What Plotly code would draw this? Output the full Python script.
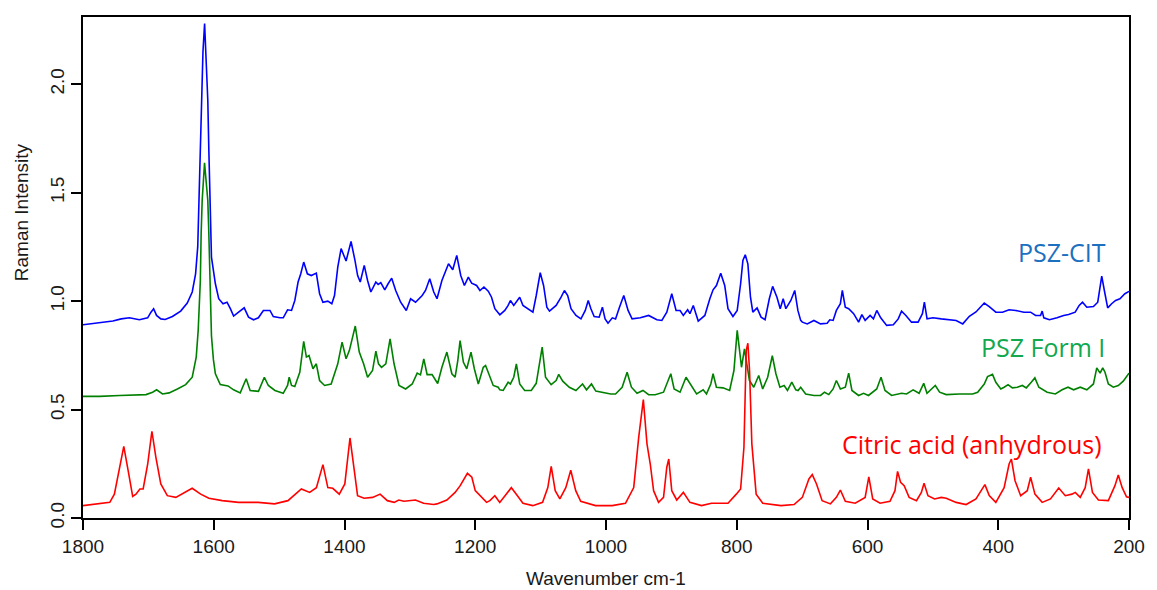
import plotly.graph_objects as go

# Citric acid (anhydrous) spectrum: (wavenumber, intensity)
citric_points = [
    (1800, 0.057), (1759, 0.072), (1752, 0.11), (1743, 0.25), (1737.6, 0.33), (1731, 0.22),
    (1724, 0.10), (1719, 0.11), (1713, 0.134), (1708, 0.134), (1701, 0.25), (1694.6, 0.40),
    (1688.5, 0.28), (1681, 0.157), (1671, 0.103), (1658, 0.095), (1645.5, 0.118), (1633, 0.137),
    (1620, 0.11), (1607.5, 0.091), (1587, 0.08), (1562, 0.072), (1532, 0.072), (1519, 0.069),
    (1507, 0.065), (1486.5, 0.08), (1476, 0.11), (1466, 0.134), (1453.3, 0.118), (1443, 0.14),
    (1433, 0.246), (1425.5, 0.14), (1418, 0.137), (1408, 0.11), (1399.5, 0.157), (1391.6, 0.369),
    (1385, 0.218), (1380, 0.103), (1370, 0.091), (1357, 0.095), (1345.5, 0.11), (1334.5, 0.08),
    (1324, 0.072), (1317, 0.083), (1309, 0.077), (1291.5, 0.083), (1279, 0.068), (1263.6, 0.062),
    (1258.6, 0.065), (1243.4, 0.083), (1230.8, 0.118), (1223, 0.149), (1212, 0.206), (1205.2, 0.188),
    (1200, 0.126), (1192.8, 0.103), (1182.7, 0.072), (1177.6, 0.08), (1170, 0.103), (1162.5, 0.072),
    (1152.4, 0.11), (1144.8, 0.14), (1137.2, 0.11), (1127, 0.068), (1112, 0.057), (1097, 0.072),
    (1089, 0.14), (1083.8, 0.238), (1077.7, 0.126), (1070.6, 0.088), (1061.5, 0.14), (1053.9, 0.22),
    (1046.3, 0.126), (1038.7, 0.077), (1016, 0.057), (990.6, 0.057), (970.2, 0.068), (957.6, 0.14),
    (950, 0.372), (942.9, 0.546), (937.3, 0.342), (932.3, 0.249), (927.2, 0.126), (919.6, 0.072),
    (912, 0.095), (907, 0.234), (904, 0.272), (899.4, 0.126), (891.8, 0.083), (881.7, 0.118),
    (871.6, 0.072), (853.9, 0.057), (838.7, 0.068), (813.4, 0.068), (800.7, 0.11), (794.1, 0.134),
    (789, 0.326), (785.5, 0.772), (783, 0.806), (780.4, 0.68), (776.9, 0.342), (770.3, 0.11),
    (760.2, 0.068), (732.4, 0.057), (712.3, 0.062), (699.7, 0.095), (689.6, 0.18), (684.5, 0.2),
    (678, 0.157), (669.4, 0.08), (656.7, 0.065), (647.6, 0.095), (641.5, 0.129), (633.9, 0.077),
    (618.8, 0.068), (603.6, 0.095), (598, 0.19), (592, 0.088), (580.8, 0.068), (565.6, 0.077),
    (558, 0.126), (554, 0.215), (549.4, 0.165), (543.9, 0.149), (536.3, 0.095), (525.1, 0.08),
    (517.6, 0.118), (513.5, 0.16), (507.5, 0.103), (497.4, 0.088), (487.2, 0.095), (479.6, 0.091),
    (464.4, 0.072), (454.3, 0.065), (449.2, 0.062), (434.1, 0.088), (425.5, 0.129), (420.4, 0.154),
    (413.8, 0.103), (403.7, 0.072), (391, 0.14), (383.4, 0.249), (379.9, 0.272), (374.3, 0.172),
    (365.7, 0.103), (355.6, 0.126), (350.5, 0.188), (343.9, 0.11), (332.8, 0.072), (320.1, 0.088),
    (307.5, 0.138), (297.4, 0.103), (287.3, 0.11), (282.2, 0.118), (274.6, 0.095), (267, 0.14),
    (262, 0.226), (255.9, 0.118), (246.8, 0.083), (231.6, 0.08), (221.5, 0.149), (216.4, 0.198),
    (210.4, 0.14), (203.8, 0.098), (200, 0.095),
]

# PSZ Form I spectrum
form1_points = [
    (1800, 0.561), (1774.5, 0.561), (1744, 0.565), (1703.6, 0.569), (1693.5, 0.58), (1687.4, 0.591),
    (1678.4, 0.572), (1668.3, 0.577), (1655.6, 0.595), (1643, 0.615), (1632.9, 0.649), (1626.8, 0.742),
    (1623.8, 0.865), (1620.5, 1.095), (1619.3, 1.31), (1617.7, 1.464), (1614.1, 1.638), (1609.1, 1.464),
    (1607.5, 1.31), (1605.5, 1.0), (1603.5, 0.84), (1600.5, 0.73), (1597.5, 0.665), (1590, 0.615),
    (1578.2, 0.609), (1569.6, 0.591), (1559.5, 0.577), (1550.4, 0.642), (1544.3, 0.588), (1531.6, 0.584),
    (1522.6, 0.649), (1516.5, 0.611), (1506.4, 0.588), (1493.7, 0.575), (1487.1, 0.611), (1484.6, 0.649),
    (1481, 0.611), (1476, 0.606), (1468.4, 0.672), (1462.4, 0.814), (1458.3, 0.742), (1454.3, 0.749),
    (1448.2, 0.688), (1443.1, 0.711), (1438.1, 0.634), (1430.5, 0.611), (1420.4, 0.618), (1410.3, 0.711),
    (1403.7, 0.811), (1397.6, 0.734), (1392.6, 0.772), (1383.5, 0.885), (1377.4, 0.765), (1370.8, 0.711),
    (1364.7, 0.649), (1357.1, 0.68), (1352, 0.769), (1348, 0.711), (1343.4, 0.695), (1336.8, 0.711),
    (1330.3, 0.826), (1324.2, 0.711), (1316.6, 0.611), (1306.5, 0.595), (1296.4, 0.618), (1288.8, 0.668),
    (1283.8, 0.66), (1278.7, 0.734), (1273.6, 0.661), (1266, 0.661), (1257.5, 0.62), (1251, 0.695),
    (1243.4, 0.765), (1235.8, 0.665), (1230.8, 0.649), (1226.7, 0.726), (1223.2, 0.818), (1218.1, 0.718),
    (1213, 0.688), (1206.5, 0.765), (1201.4, 0.688), (1195.3, 0.618), (1187.7, 0.695), (1184.2, 0.703),
    (1179.1, 0.665), (1172.5, 0.611), (1164.9, 0.603), (1162.4, 0.591), (1157.3, 0.588), (1149.7, 0.626),
    (1146.2, 0.618), (1141.1, 0.649), (1137.1, 0.711), (1132, 0.618), (1124.4, 0.588), (1114.3, 0.588),
    (1106.7, 0.621), (1101.6, 0.711), (1097.6, 0.788), (1092.5, 0.649), (1083.9, 0.615), (1076.3, 0.634),
    (1072.3, 0.662), (1066.2, 0.631), (1056.1, 0.603), (1046, 0.588), (1035.9, 0.618), (1029.8, 0.591),
    (1022.2, 0.618), (1015.6, 0.585), (1005.5, 0.58), (992.9, 0.572), (985.4, 0.572), (975.3, 0.603),
    (967.7, 0.672), (961.1, 0.603), (952.5, 0.575), (943.4, 0.588), (934.8, 0.569), (924.7, 0.568),
    (912, 0.58), (904.4, 0.634), (900.9, 0.665), (895.8, 0.595), (886.7, 0.58), (877.6, 0.649),
    (871.6, 0.621), (861.4, 0.572), (851.3, 0.591), (846.3, 0.572), (839.7, 0.618), (836.2, 0.665),
    (831.1, 0.603), (821, 0.6), (810.9, 0.588), (804.3, 0.68), (799.3, 0.865), (795.7, 0.757),
    (792.7, 0.695), (788.2, 0.78), (784.6, 0.711), (780.6, 0.634), (774, 0.603), (766.4, 0.657),
    (760.3, 0.595), (752.7, 0.649), (745.6, 0.748), (740.1, 0.665), (734, 0.603), (727.5, 0.611),
    (722.4, 0.588), (715.8, 0.626), (709.7, 0.591), (706.2, 0.588), (702.2, 0.603), (694.6, 0.572),
    (681.9, 0.565), (671.8, 0.565), (665.8, 0.58), (659.2, 0.569), (652.6, 0.595), (647.6, 0.634),
    (641.5, 0.595), (633.9, 0.603), (628.8, 0.668), (623.8, 0.588), (613.6, 0.565), (606, 0.575),
    (598.5, 0.565), (585.9, 0.595), (579.3, 0.649), (573.2, 0.588), (563.1, 0.565), (547.9, 0.575),
    (540.3, 0.572), (530.2, 0.591), (521.1, 0.575), (514, 0.621), (509, 0.575), (502.4, 0.595),
    (496.3, 0.611), (489.7, 0.58), (479.6, 0.569), (459.4, 0.572), (439.1, 0.572), (431.5, 0.58),
    (421.4, 0.618), (416.4, 0.652), (408.8, 0.662), (403.7, 0.626), (396.1, 0.595), (391, 0.603),
    (385, 0.615), (378.4, 0.6), (370.8, 0.603), (363.2, 0.611), (357.1, 0.6), (349.5, 0.626),
    (344, 0.646), (337.9, 0.603), (325.2, 0.58), (312.6, 0.572), (302.4, 0.591), (293.3, 0.603),
    (284.7, 0.591), (274.6, 0.603), (264.5, 0.591), (254.4, 0.618), (249.3, 0.692), (244.2, 0.668),
    (240.2, 0.692), (236.7, 0.672), (231.6, 0.618), (224, 0.603), (216.4, 0.611), (208.8, 0.631),
    (200, 0.668),
]

# PSZ-CIT spectrum
pszcit_points = [
    (1800, 0.891), (1779.6, 0.898), (1754.3, 0.908), (1741.6, 0.918), (1729, 0.923), (1713.8, 0.914),
    (1701.1, 0.923), (1696, 0.949), (1692, 0.965), (1687.5, 0.934), (1680.9, 0.918), (1674.3, 0.915),
    (1663.2, 0.929), (1650.6, 0.954), (1640.5, 0.991), (1632.9, 1.042), (1627.8, 1.126), (1624.5, 1.25),
    (1622.8, 1.45), (1621.2, 1.695), (1619.3, 1.926), (1616.5, 2.15), (1614, 2.28), (1611.8, 2.15),
    (1609.1, 1.926), (1607.5, 1.695), (1605, 1.31), (1603.5, 1.203), (1597.5, 1.08), (1592.4, 1.011),
    (1585.8, 0.988), (1579.7, 0.995), (1574.6, 0.965), (1569.6, 0.931), (1562, 0.949), (1553.4, 0.969),
    (1546.8, 0.926), (1539.2, 0.914), (1531.7, 0.923), (1524.1, 0.957), (1514, 0.957), (1508.9, 0.929),
    (1498.8, 0.923), (1493.7, 0.923), (1487.1, 0.96), (1481, 0.957), (1476, 1.003), (1471, 1.088),
    (1466.9, 1.126), (1462.4, 1.18), (1456.8, 1.126), (1450.8, 1.118), (1443.1, 1.129), (1438.1, 1.034),
    (1433, 0.995), (1425.5, 1.0), (1419.4, 0.988), (1415.3, 1.026), (1410.3, 1.157), (1405.2, 1.242),
    (1397.6, 1.185), (1390, 1.275), (1384, 1.188), (1379.9, 1.118), (1375.9, 1.088), (1369.8, 1.165),
    (1364.7, 1.095), (1359.7, 1.042), (1352.1, 1.088), (1348.5, 1.077), (1344.5, 1.085), (1338.4, 1.052),
    (1333.3, 1.08), (1327.8, 1.106), (1321.7, 1.049), (1314.1, 0.995), (1305.5, 0.957), (1298.9, 1.011),
    (1291.3, 0.995), (1281.2, 1.026), (1276.1, 1.049), (1269.6, 1.103), (1263.5, 1.042), (1258.5, 1.011),
    (1251, 1.095), (1243.2, 1.16), (1240.9, 1.172), (1234.4, 1.145), (1228.3, 1.211), (1222.2, 1.118),
    (1216.6, 1.072), (1210.6, 1.111), (1205.5, 1.083), (1197.9, 1.072), (1192.8, 1.049), (1186.7, 1.065),
    (1180.1, 1.046), (1175.1, 1.018), (1170, 0.965), (1162.4, 0.937), (1154.8, 0.957), (1149.7, 0.98),
    (1146.2, 1.003), (1141.1, 0.98), (1132, 1.018), (1127, 0.98), (1119.4, 0.965), (1111.8, 0.949),
    (1106.7, 1.026), (1100.6, 1.131), (1095.5, 1.072), (1090.5, 0.972), (1086.4, 0.954), (1076.3, 0.98),
    (1068.7, 1.018), (1063.6, 1.049), (1058.6, 1.026), (1053.5, 0.965), (1045.9, 0.934), (1038.3, 0.918),
    (1031.7, 0.957), (1027.2, 1.003), (1023.1, 0.965), (1018.1, 0.929), (1010.5, 0.926), (1005.5, 0.972),
    (1001.4, 0.918), (996.9, 0.898), (990.3, 0.923), (985.4, 0.918), (979.4, 0.972), (972.8, 1.026),
    (966.2, 0.957), (960.1, 0.918), (947.5, 0.923), (934.8, 0.934), (922.2, 0.914), (914.6, 0.911),
    (907, 0.949), (899.4, 1.034), (892.8, 0.957), (886.7, 0.957), (881.7, 0.934), (875.1, 0.96),
    (871.6, 0.942), (866.5, 0.98), (858.9, 0.908), (848.8, 0.934), (841.2, 1.011), (836.2, 1.052),
    (831.1, 1.072), (824.5, 1.129), (818.4, 1.072), (813.4, 0.965), (805.8, 0.929), (799.3, 0.957),
    (794.1, 1.08), (790.6, 1.188), (787, 1.214), (783, 1.172), (779, 1.018), (775.4, 0.949),
    (768.9, 0.969), (762.8, 0.926), (756.7, 0.914), (750.2, 1.011), (745.1, 1.068), (738.5, 1.018),
    (733.5, 0.965), (729, 1.011), (724.9, 0.965), (717.3, 1.003), (711.3, 1.049), (706.5, 0.957),
    (702.2, 0.911), (699.7, 0.903), (692.1, 0.895), (682, 0.911), (671.8, 0.895), (661.7, 0.898),
    (657.7, 0.914), (652.6, 0.911), (647.6, 0.957), (641.5, 0.988), (638.5, 1.049), (634, 0.972),
    (628.8, 0.965), (621.2, 0.942), (613.6, 0.903), (608.6, 0.938), (603.6, 0.911), (596, 0.934),
    (590.9, 0.918), (585.8, 0.957), (579.8, 0.923), (570.7, 0.888), (560.5, 0.891), (553, 0.918),
    (547.9, 0.954), (541.3, 0.934), (532.7, 0.903), (522.6, 0.903), (516, 0.942), (513, 0.995),
    (508.9, 0.918), (499.8, 0.923), (487.2, 0.918), (474.5, 0.914), (464.4, 0.911), (454.3, 0.895),
    (444.2, 0.93), (434.1, 0.95), (421.4, 0.991), (413.8, 0.975), (403.7, 0.949), (393.5, 0.949),
    (383.4, 0.96), (373.3, 0.957), (360.7, 0.949), (350.5, 0.949), (342.9, 0.934), (335.3, 0.934),
    (332.8, 0.954), (330.3, 0.923), (321.7, 0.914), (310.1, 0.923), (300, 0.934), (292.4, 0.938),
    (282.3, 0.949), (276.2, 0.98), (271.1, 0.995), (264.5, 0.972), (254.4, 0.975), (247.8, 0.995),
    (244.2, 1.065), (241.7, 1.115), (237.7, 1.049), (232.6, 0.969), (226.6, 0.988), (220.5, 1.003),
    (213.9, 1.011), (206.3, 1.034), (200, 1.045),
]

series_names = ["PSZ-CIT", "PSZ Form I", "Citric acid (anhydrous)"]
x_tick_vals = [1800, 1600, 1400, 1200, 1000, 800, 600, 400, 200]
y_tick_vals = [0.0, 0.5, 1.0, 1.5, 2.0]
y_tick_text = ["0.0", "0.5", "1.0", "1.5", "2.0"]
x_title = "Wavenumber cm-1"
y_title = "Raman Intensity"

series = [
    (pszcit_points, "#0000FF", "#1B70C0", 302.6, 1.226),
    (form1_points, "#008000", "#12A84E", 331.4, 0.79),
    (citric_points, "#FF0000", "#FF0000", 440.7, 0.343),
]

fig = go.Figure()
for name, (pts, lc, tc, lx, ly) in zip(series_names, series):
    fig.add_trace(go.Scatter(
        x=[p[0] for p in pts], y=[p[1] for p in pts], mode="lines",
        line=dict(color=lc, width=1.6), name=name, showlegend=False,
    ))
    fig.add_annotation(x=lx, y=ly, text=name, showarrow=False,
                       font=dict(family="Open Sans", size=25, color=tc))

axis_font = dict(family="Liberation Sans", size=19, color="#1a1a1a")
fig.add_annotation(xref="paper", yref="paper", x=0.5, y=-0.12, text=x_title,
                   showarrow=False, xanchor="center", yanchor="middle", font=axis_font)
fig.add_annotation(xref="paper", yref="paper", x=-0.058, y=0.611, text=y_title,
                   showarrow=False, xanchor="center", yanchor="middle", textangle=-90,
                   font=axis_font)

axis_common = dict(
    showline=True, mirror=True, linecolor="black", linewidth=1.6,
    ticks="outside", ticklen=10, tickwidth=1.6, tickcolor="black",
    showgrid=False, zeroline=False, tickfont=axis_font,
)

fig.update_layout(
    width=1157, height=590,
    margin=dict(l=83, r=20, t=17, b=72),
    plot_bgcolor="white", paper_bgcolor="white",
    xaxis=dict(range=[1800, 200], tickvals=x_tick_vals, **axis_common),
    yaxis=dict(range=[0, 2.31], tickvals=y_tick_vals, ticktext=y_tick_text, tickangle=-90,
               **axis_common),
)

fig.write_html("out.html")
